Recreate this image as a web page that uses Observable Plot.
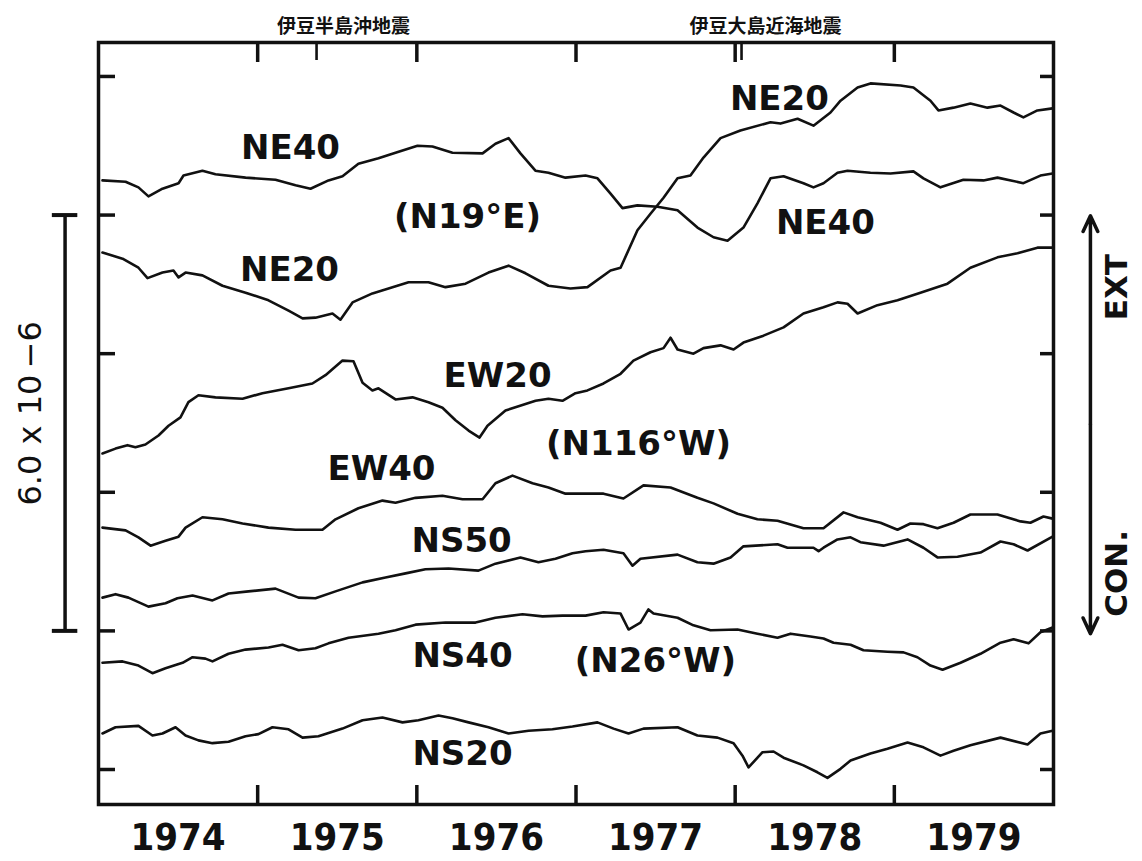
<!DOCTYPE html>
<html>
<head>
<meta charset="utf-8">
<script src="https://cdn.jsdelivr.net/npm/d3@7"></script>
<script src="https://cdn.jsdelivr.net/npm/@observablehq/plot@0.6"></script>
<style>
  html, body { margin: 0; padding: 0; background: #fff; overflow: hidden; }
  #chart svg { display: block; }
</style>
</head>
<body>
<div id="chart"></div>
<script>
// Strain records (units: 1e-6, arbitrary offsets per trace), x = decimal year
const NE40 = [[1974.025,8.50],[1974.170,8.48],[1974.251,8.40],[1974.314,8.27],[1974.402,8.38],[1974.503,8.46],[1974.534,8.57],[1974.653,8.64],[1974.735,8.59],[1974.924,8.54],[1975.112,8.51],[1975.238,8.43],[1975.332,8.38],[1975.445,8.50],[1975.533,8.56],[1975.633,8.74],[1975.759,8.82],[1975.866,8.90],[1976.004,9.00],[1976.098,8.99],[1976.224,8.90],[1976.413,8.89],[1976.494,9.03],[1976.576,9.11],[1976.651,8.89],[1976.745,8.64],[1976.827,8.61],[1976.934,8.54],[1977.060,8.57],[1977.135,8.53],[1977.217,8.31],[1977.292,8.10],[1977.386,8.14],[1977.512,8.12],[1977.638,8.07],[1977.763,7.82],[1977.864,7.68],[1977.952,7.63],[1978.052,7.82],[1978.140,8.17],[1978.222,8.53],[1978.304,8.56],[1978.429,8.46],[1978.492,8.40],[1978.555,8.46],[1978.643,8.61],[1978.706,8.64],[1978.850,8.61],[1978.976,8.60],[1979.120,8.63],[1979.183,8.53],[1979.290,8.40],[1979.434,8.51],[1979.560,8.50],[1979.648,8.54],[1979.811,8.46],[1979.918,8.57],[1979.994,8.60]];
const NE20 = [[1974.025,7.46],[1974.151,7.37],[1974.251,7.24],[1974.308,7.09],[1974.402,7.17],[1974.471,7.20],[1974.503,7.10],[1974.547,7.17],[1974.653,7.13],[1974.779,6.98],[1974.924,6.88],[1975.068,6.77],[1975.194,6.62],[1975.282,6.51],[1975.363,6.52],[1975.470,6.58],[1975.520,6.49],[1975.596,6.74],[1975.721,6.87],[1975.822,6.94],[1975.948,7.03],[1976.073,7.03],[1976.180,6.96],[1976.306,7.01],[1976.450,7.17],[1976.576,7.27],[1976.683,7.16],[1976.827,6.98],[1976.965,6.94],[1977.072,6.96],[1977.217,7.20],[1977.280,7.24],[1977.386,7.78],[1977.468,8.02],[1977.550,8.25],[1977.638,8.53],[1977.719,8.57],[1977.801,8.83],[1977.908,9.11],[1978.033,9.22],[1978.222,9.34],[1978.285,9.32],[1978.392,9.39],[1978.492,9.29],[1978.599,9.48],[1978.662,9.65],[1978.769,9.84],[1978.850,9.90],[1979.039,9.87],[1979.120,9.84],[1979.227,9.65],[1979.277,9.51],[1979.372,9.55],[1979.478,9.61],[1979.585,9.55],[1979.667,9.58],[1979.749,9.48],[1979.811,9.41],[1979.899,9.51],[1979.994,9.54]];
const EW20 = [[1974.025,4.56],[1974.107,4.63],[1974.182,4.68],[1974.232,4.65],[1974.295,4.69],[1974.377,4.82],[1974.440,4.96],[1974.515,5.08],[1974.565,5.30],[1974.628,5.40],[1974.735,5.37],[1974.905,5.35],[1975.030,5.43],[1975.194,5.50],[1975.344,5.57],[1975.426,5.69],[1975.533,5.90],[1975.602,5.89],[1975.659,5.58],[1975.721,5.47],[1975.759,5.50],[1975.866,5.34],[1975.973,5.37],[1976.073,5.30],[1976.161,5.22],[1976.243,5.04],[1976.325,4.89],[1976.394,4.79],[1976.444,4.96],[1976.557,5.18],[1976.639,5.24],[1976.746,5.32],[1976.827,5.35],[1976.915,5.32],[1976.997,5.43],[1977.072,5.47],[1977.173,5.57],[1977.280,5.71],[1977.361,5.90],[1977.468,6.02],[1977.550,6.08],[1977.594,6.23],[1977.638,6.06],[1977.738,6.00],[1977.801,6.08],[1977.908,6.12],[1977.990,6.06],[1978.052,6.16],[1978.178,6.26],[1978.304,6.38],[1978.429,6.58],[1978.555,6.67],[1978.643,6.74],[1978.706,6.72],[1978.769,6.58],[1978.894,6.70],[1979.020,6.77],[1979.164,6.88],[1979.334,7.01],[1979.478,7.24],[1979.648,7.39],[1979.774,7.45],[1979.899,7.53],[1979.994,7.53]];
const EW40 = [[1974.025,3.49],[1974.170,3.45],[1974.251,3.35],[1974.327,3.23],[1974.421,3.30],[1974.503,3.36],[1974.547,3.49],[1974.653,3.64],[1974.779,3.61],[1974.905,3.55],[1975.068,3.49],[1975.238,3.46],[1975.407,3.46],[1975.489,3.61],[1975.633,3.77],[1975.784,3.88],[1975.866,3.85],[1975.992,3.92],[1976.161,3.95],[1976.287,3.90],[1976.413,3.90],[1976.494,4.13],[1976.601,4.24],[1976.727,4.13],[1976.827,4.07],[1976.934,3.98],[1977.060,3.98],[1977.173,3.98],[1977.298,3.91],[1977.424,4.10],[1977.594,4.07],[1977.763,3.92],[1977.864,3.84],[1978.015,3.69],[1978.140,3.61],[1978.266,3.59],[1978.429,3.48],[1978.555,3.48],[1978.681,3.71],[1978.769,3.64],[1978.913,3.56],[1979.020,3.46],[1979.101,3.55],[1979.183,3.54],[1979.271,3.48],[1979.372,3.56],[1979.478,3.68],[1979.648,3.68],[1979.793,3.58],[1979.855,3.56],[1979.937,3.65],[1979.994,3.62]];
const NS50 = [[1974.025,2.48],[1974.107,2.53],[1974.188,2.48],[1974.314,2.35],[1974.421,2.40],[1974.496,2.47],[1974.591,2.51],[1974.716,2.44],[1974.817,2.54],[1974.942,2.57],[1975.112,2.61],[1975.257,2.48],[1975.363,2.47],[1975.489,2.57],[1975.659,2.70],[1975.803,2.77],[1975.929,2.83],[1976.054,2.89],[1976.199,2.90],[1976.387,2.87],[1976.494,2.97],[1976.651,3.06],[1976.764,2.99],[1976.871,3.04],[1976.978,3.12],[1977.060,3.15],[1977.173,3.17],[1977.298,3.12],[1977.355,2.94],[1977.405,3.04],[1977.638,3.10],[1977.763,2.99],[1977.864,2.97],[1977.971,3.06],[1978.052,3.22],[1978.266,3.25],[1978.329,3.20],[1978.492,3.20],[1978.524,3.15],[1978.555,3.20],[1978.643,3.32],[1978.725,3.35],[1978.787,3.28],[1978.932,3.23],[1979.083,3.32],[1979.183,3.20],[1979.271,3.06],[1979.397,3.07],[1979.541,3.13],[1979.667,3.29],[1979.749,3.25],[1979.837,3.16],[1979.994,3.36]];
const NS40 = [[1974.025,1.54],[1974.151,1.56],[1974.251,1.50],[1974.339,1.39],[1974.421,1.46],[1974.528,1.54],[1974.591,1.62],[1974.672,1.60],[1974.716,1.56],[1974.817,1.67],[1974.924,1.73],[1975.068,1.76],[1975.156,1.80],[1975.257,1.72],[1975.363,1.75],[1975.445,1.82],[1975.571,1.90],[1975.759,1.96],[1975.866,2.01],[1975.992,2.09],[1976.180,2.12],[1976.369,2.12],[1976.494,2.19],[1976.664,2.24],[1976.790,2.21],[1976.915,2.22],[1977.060,2.22],[1977.173,2.27],[1977.280,2.25],[1977.330,2.02],[1977.405,2.12],[1977.455,2.31],[1977.487,2.25],[1977.638,2.19],[1977.738,2.08],[1977.845,2.01],[1978.015,2.02],[1978.140,1.96],[1978.266,1.90],[1978.348,1.96],[1978.473,1.92],[1978.555,1.89],[1978.618,1.83],[1978.725,1.80],[1978.806,1.72],[1978.957,1.70],[1979.058,1.69],[1979.145,1.62],[1979.227,1.50],[1979.303,1.44],[1979.416,1.54],[1979.541,1.67],[1979.667,1.83],[1979.749,1.88],[1979.843,1.82],[1979.918,1.98],[1979.994,2.05]];
const NS20 = [[1974.025,0.52],[1974.107,0.61],[1974.251,0.63],[1974.339,0.49],[1974.402,0.52],[1974.484,0.61],[1974.547,0.49],[1974.628,0.42],[1974.716,0.38],[1974.817,0.40],[1974.924,0.48],[1975.005,0.51],[1975.093,0.61],[1975.194,0.58],[1975.282,0.46],[1975.382,0.48],[1975.533,0.59],[1975.659,0.71],[1975.784,0.75],[1975.910,0.68],[1976.010,0.71],[1976.136,0.78],[1976.224,0.74],[1976.325,0.68],[1976.450,0.61],[1976.576,0.52],[1976.702,0.56],[1976.852,0.58],[1976.978,0.62],[1977.135,0.68],[1977.236,0.59],[1977.330,0.52],[1977.424,0.59],[1977.638,0.61],[1977.763,0.49],[1977.889,0.46],[1977.990,0.38],[1978.046,0.20],[1978.084,0.03],[1978.172,0.25],[1978.241,0.26],[1978.304,0.17],[1978.429,0.06],[1978.517,-0.04],[1978.580,-0.12],[1978.662,0.01],[1978.725,0.13],[1978.850,0.23],[1978.957,0.30],[1979.083,0.39],[1979.183,0.32],[1979.290,0.20],[1979.372,0.27],[1979.478,0.35],[1979.667,0.46],[1979.837,0.36],[1979.918,0.52],[1979.994,0.56]];

const seriesNames = ["NE40","NE20","EW20","EW40","NS50","NS40","NS20"];
const seriesValues = [NE40, NE20, EW20, EW40, NS50, NS40, NS20];

// Axis ticks
const yearTicks = [1975, 1976, 1977, 1978, 1979];
const yearLabelPositions = [1974.5, 1975.5, 1976.5, 1977.5, 1978.5, 1979.5];
const strainTicks = [0, 2, 4, 6, 8, 10];
const eventTicks = [1975.37, 1978.04];

// Curve labels
const labelTexts = ["NE40","(N19°E)","NE20","NE20","NE40","EW20","(N116°W)","EW40","NS50","NS40","(N26°W)","NS20"];
const labelYears = [1975.206,1976.318,1975.200,1978.278,1978.567,1976.507,1977.393,1975.778,1976.281,1976.287,1977.499,1976.287];
const labelValues = [8.96,7.97,7.20,9.68,7.89,5.67,4.70,4.34,3.30,1.63,1.56,0.22];

// Earthquake labels above the frame
const quakeTexts = ["伊豆半島沖地震", "伊豆大島近海地震"];
const quakeYears = [1975.54, 1978.19];
const quakeValue = 10.71;

// Scale bar (6.0 x 10^-6) and EXT/CON arrow
const scaleBar = {year: 1973.79, capFrom: 1973.71, capTo: 1973.87, from: 2, to: 8, labelYear: 1973.573, labelValue: 5.14, text: "6.0 x 10\u2009\u22126"};
const arrowInfo = {year: 1980.232, mid: 4.98, top: 7.99, bottom: 1.96, textYear: 1980.402, extValue: 6.96, conValue: 2.83};

const rows = seriesNames.flatMap((name, i) => seriesValues[i].map(([year, value]) => ({series: name, year, value})));
const labels = labelTexts.map((t, i) => ({text: t, year: labelYears[i], value: labelValues[i]}));
const quakes = quakeTexts.map((t, i) => ({text: t, year: quakeYears[i], value: quakeValue}));

const W = 1142, H = 861;
const mL = 98, mR = 89, mT = 42, mB = 57;
const innerW = W - mL - mR, innerH = H - mT - mB;
const latin = "'DejaVu Sans', 'Liberation Sans', sans-serif";
const condensed = "'DejaVu Sans Condensed', 'DejaVu Sans', sans-serif";
const arrowStroke = 3.5;

const chart = Plot.plot({
  width: W,
  height: H,
  marginLeft: mL, marginRight: mR, marginTop: mT, marginBottom: mB,
  style: {background: "#fff", color: "#111"},
  x: {domain: [1974, 1980]},
  y: {domain: [-0.505, 10.49], axis: null},
  marks: [
    // curves
    Plot.line(rows, {x: "year", y: "value", z: "series", stroke: "#111", strokeWidth: 2.6, strokeLinejoin: "round", curve: "linear"}),
    // year labels (centered in each year)
    Plot.axisX({ticks: yearLabelPositions, tickSize: 0, tickPadding: 19, tickFormat: d => String(Math.floor(d)), label: null,
      fontSize: 38, fontWeight: "bold", fontFamily: condensed}),
    // inward ticks: bottom, top
    Plot.ruleX(yearTicks, {x: d => d, insetTop: innerH - 19, stroke: "#111", strokeWidth: 3.5}),
    Plot.ruleX(yearTicks, {x: d => d, insetBottom: innerH - 20, stroke: "#111", strokeWidth: 3.5}),
    Plot.ruleX(eventTicks, {x: d => d, insetBottom: innerH - 18, stroke: "#111", strokeWidth: 2.6}),
    // inward ticks: left, right
    Plot.ruleY(strainTicks, {y: d => d, insetRight: innerW - 17, stroke: "#111", strokeWidth: 3.5}),
    Plot.ruleY(strainTicks, {y: d => d, insetLeft: innerW - 13, stroke: "#111", strokeWidth: 3.5}),
    Plot.frame({stroke: "#111", strokeWidth: 3.5}),
    // curve labels
    Plot.text(labels, {x: "year", y: "value", text: "text", fontSize: 34, fontWeight: "bold", fontFamily: latin, fill: "#111"}),
    // earthquake labels
    Plot.text(quakes, {x: "year", y: "value", text: "text", fontSize: 19, fontWeight: "bold", fontFamily: "'Noto Sans CJK JP', sans-serif", fill: "#111"}),
    // scale bar
    Plot.ruleX([scaleBar], {x: "year", y1: "from", y2: "to", stroke: "#111", strokeWidth: 3.5}),
    Plot.ruleY([scaleBar.from, scaleBar.to], {y: d => d, x1: scaleBar.capFrom, x2: scaleBar.capTo, stroke: "#111", strokeWidth: 4}),
    Plot.text([scaleBar], {x: "labelYear", y: "labelValue", text: "text", rotate: -90, fontSize: 32, fontFamily: latin, fill: "#111"}),
    // EXT / CON arrow
    Plot.arrow([arrowInfo], {x1: "year", y1: "mid", x2: "year", y2: "top", headLength: 26 / arrowStroke, headAngle: 50, stroke: "#111", strokeWidth: arrowStroke}),
    Plot.arrow([arrowInfo], {x1: "year", y1: "mid", x2: "year", y2: "bottom", headLength: 26 / arrowStroke, headAngle: 50, stroke: "#111", strokeWidth: arrowStroke}),
    Plot.text([arrowInfo], {x: "textYear", y: "extValue", text: () => "EXT", rotate: -90, fontSize: 31, fontWeight: "bold", fontFamily: latin, fill: "#111", letterSpacing: 3}),
    Plot.text([arrowInfo], {x: "textYear", y: "conValue", text: () => "CON.", rotate: -90, fontSize: 31, fontWeight: "bold", fontFamily: latin, fill: "#111", letterSpacing: 2})
  ]
});
document.getElementById("chart").append(chart);
</script>
</body>
</html>
